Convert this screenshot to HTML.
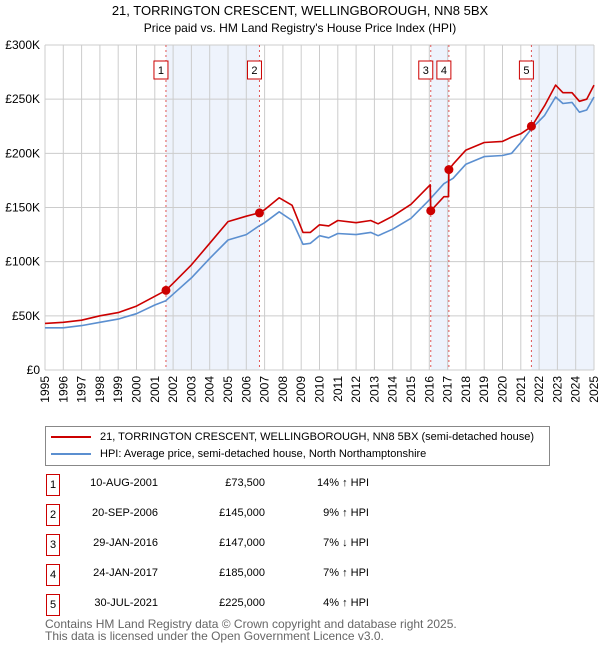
<!DOCTYPE html>
<html><head><meta charset="utf-8">
<style>
body{margin:0;background:#fff;font-family:"Liberation Sans","DejaVu Sans",sans-serif;}
#wrap{position:relative;width:600px;height:650px;overflow:hidden;}
.t{position:absolute;font-size:12px;color:#000;}
</style></head><body>
<div id="wrap">
<svg id="chart" width="600" height="420" style="position:absolute;left:0;top:0"></svg>
<div style="position:absolute;left:45px;top:426px;width:505px;height:40px;border:1px solid #888;box-sizing:border-box;">
 <div style="position:absolute;left:5px;top:4px;font-size:11px;"><span style="display:inline-block;width:40px;height:2px;background:#cc0000;vertical-align:middle;margin-right:9px"></span>21, TORRINGTON CRESCENT, WELLINGBOROUGH, NN8 5BX (semi-detached house)</div>
 <div style="position:absolute;left:5px;top:21px;font-size:11px;"><span style="display:inline-block;width:40px;height:2px;background:#5b8fd0;vertical-align:middle;margin-right:9px"></span>HPI: Average price, semi-detached house, North Northamptonshire</div>
</div>
<div id="table"></div>
<div class="t" style="left:45px;top:618px;color:#666;line-height:12px;">Contains HM Land Registry data © Crown copyright and database right 2025.<br>This data is licensed under the Open Government Licence v3.0.</div>
</div>
<script>
const hpiYears=[1995,1996,1997,1998,1999,2000,2001,2001.6,2002,2003,2004,2005,2006,2006.7,2007,2007.8,2008.5,2009.1,2009.5,2010,2010.5,2011,2012,2012.8,2013.2,2014,2015,2016,2016.8,2017.3,2018,2019,2020,2020.5,2021,2021.6,2022.3,2022.9,2023.3,2023.8,2024.2,2024.6,2025];
const hpiValues=[39,39,41,44,47,52,60,64,70,85,103,120,125,133,136,146,138,116,117,124,122,126,125,127,124,130,140,157,172,177,190,197,198,200,210,223,235,252,246,247,238,240,252];
const propYears=[1995,1996,1997,1998,1999,2000,2001,2001.6,2002,2003,2004,2005,2006,2006.7,2007,2007.8,2008.5,2009.1,2009.5,2010,2010.5,2011,2012,2012.8,2013.2,2014,2015,2016.05,2016.08,2016.8,2017.05,2017.07,2017.3,2018,2019,2020,2020.5,2021,2021.6,2022.3,2022.9,2023.3,2023.8,2024.2,2024.6,2025];
const propValues=[43,44,46,50,53,59,68,73.5,80,97,117,137,142,145,148,159,152,127,127,134,133,138,136,138,135,142,153,171,147,160,160,185,190,203,210,211,215,218,225,244,263,256,256,248,250,263];
const saleLabels=["1","2","3","4","5"];
const saleYears=[2001.61,2006.72,2016.08,2017.07,2021.58];
const salePrices=[73.5,145,147,185,225];
const saleDates=["10-AUG-2001","20-SEP-2006","29-JAN-2016","24-JAN-2017","30-JUL-2021"];
const salePriceText=["£73,500","£145,000","£147,000","£185,000","£225,000"];
const saleHpiText=["14% ↑ HPI","9% ↑ HPI","7% ↓ HPI","7% ↑ HPI","4% ↑ HPI"];
const yTicks=[0,50,100,150,200,250,300];
const yTickLabels=["£0","£50K","£100K","£150K","£200K","£250K","£300K"];
const xTicks=[1995,1996,1997,1998,1999,2000,2001,2002,2003,2004,2005,2006,2007,2008,2009,2010,2011,2012,2013,2014,2015,2016,2017,2018,2019,2020,2021,2022,2023,2024,2025];

const X0=45,X1=594,Y0=370,Y1=45;
const xs=v=>X0+(v-1995)/(2025-1995)*(X1-X0);
const ys=v=>Y0-(v/300)*(Y0-Y1);
const svg=document.getElementById('chart');
const NS='http://www.w3.org/2000/svg';
function mk(tag,attrs,parent){const e=document.createElementNS(NS,tag);for(const k in attrs)e.setAttribute(k,attrs[k]);(parent||svg).appendChild(e);return e;}

let e;
e=mk('text',{x:300,y:15,'text-anchor':'middle','font-size':13});e.textContent='21, TORRINGTON CRESCENT, WELLINGBOROUGH, NN8 5BX';


e=mk('text',{x:300,y:32,'text-anchor':'middle','font-size':12});e.textContent="Price paid vs. HM Land Registry's House Price Index (HPI)";



const shadeStart=[saleYears[0],saleYears[2],saleYears[4]];
const shadeEnd=[saleYears[1],saleYears[3],2025];
for(let i=0;i<shadeStart.length;i++){
 e=mk('rect',{x:xs(shadeStart[i]),y:Y1,width:xs(shadeEnd[i])-xs(shadeStart[i]),height:Y0-Y1,fill:'#eef3fc'});
 
 
}
xTicks.forEach((t,i)=>{
 e=mk('line',{x1:xs(t),x2:xs(t),y1:Y1,y2:Y0,stroke:'#cccccc','stroke-width':1});
 
 
 e=mk('text',{x:0,y:0,'font-size':12,'text-anchor':'end',transform:`translate(${xs(t)+4},${Y0+6}) rotate(-90)`});
 e.textContent=String(t);
 
 
});
yTicks.forEach((t,i)=>{
 e=mk('line',{x1:X0,x2:X1,y1:ys(t),y2:ys(t),stroke:'#cccccc','stroke-width':1});
 
 
 e=mk('text',{x:X0-5,y:ys(t)+4,'font-size':12,'text-anchor':'end'});
 e.textContent=yTickLabels[i];
 
 
});
saleYears.forEach((s,i)=>{
 e=mk('line',{x1:xs(s),x2:xs(s),y1:Y1,y2:Y0,stroke:'#e05555','stroke-width':1,'stroke-dasharray':'2,3'});
 
 
 const g=mk('g',{});
 
 
 mk('rect',{x:xs(s)-12,y:61,width:14,height:18,fill:'#fff',stroke:'#cc0000','stroke-width':1},g);
 const tx=mk('text',{x:xs(s)-5,y:74,'text-anchor':'middle','font-size':11},g);tx.textContent=saleLabels[i];
});
function path(xa,va,color,name){
 let d='';xa.forEach((x,i)=>{d+=(i?'L':'M')+xs(x).toFixed(1)+','+ys(va[i]).toFixed(1);});
 e=mk('path',{d:d,fill:'none',stroke:color,'stroke-width':1.6,'stroke-linejoin':'round'});
 
 
}
path(hpiYears,hpiValues,'#5b8fd0','hpi-line');
path(propYears,propValues,'#cc0000','property-line');
saleYears.forEach((s,i)=>{
 e=mk('circle',{cx:xs(s),cy:ys(salePrices[i]),r:4.5,fill:'#cc0000'});
 
 
});

const tb=document.getElementById('table');
saleLabels.forEach((l,i)=>{
 const top=474+i*30;
 const row=document.createElement('div');
 
 
 row.style.cssText=`position:absolute;left:0;top:${top}px;width:600px;height:22px;font-size:11px;`;
 row.innerHTML=`<div style="position:absolute;left:46px;top:0;width:12px;height:20px;border:1px solid #cc0000;text-align:center;line-height:20px">${l}</div>
 <div style="position:absolute;right:442px;top:3px">${saleDates[i]}</div>
 <div style="position:absolute;right:335px;top:3px">${salePriceText[i]}</div>
 <div style="position:absolute;right:231px;top:3px">${saleHpiText[i]}</div>`;
 tb.appendChild(row);
});
</script>
</body></html>
